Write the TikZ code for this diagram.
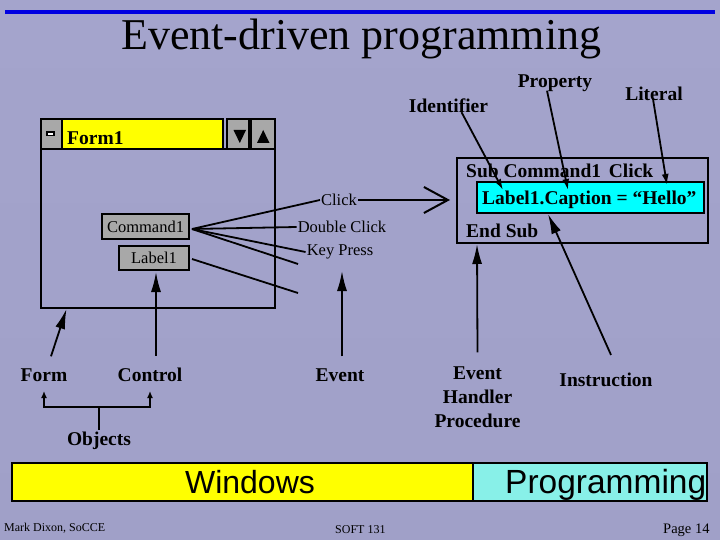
\documentclass[tikz,border=0pt]{standalone}
\usepackage{fontspec}
\setmainfont{Liberation Serif}
\newfontfamily\arialf{Liberation Sans}
\usetikzlibrary{arrows.meta,calc}
\definecolor{bgtop}{RGB}{164,164,204}
\definecolor{bgmid}{RGB}{202,202,244}
\definecolor{bgbot}{RGB}{160,160,200}
\definecolor{titleblue}{RGB}{0,0,225}
\definecolor{btngray}{RGB}{168,168,168}
\definecolor{codecyan}{RGB}{0,255,255}
\definecolor{progcyan}{RGB}{136,240,232}
\definecolor{winyellow}{RGB}{255,255,0}
\begin{document}
\begin{tikzpicture}[x=1pt,y=-1pt,
  lbl/.style={font=\fontsize{19.5}{23}\selectfont\bfseries, inner sep=0pt, align=center},
  evtlbl/.style={font=\fontsize{16.5}{18}\selectfont, inner sep=1pt},
  btn/.style={draw=black, line width=2pt, fill=btngray, inner sep=0pt, font=\fontsize{16.5}{18}\selectfont},
  frame/.style={draw=black, line width=2pt},
  conn/.style={line width=1.8pt},
  bigarr/.style={line width=1.8pt, -{Latex[length=20pt,width=10pt]}},
  smallarr/.style={line width=1.8pt, -{Latex[length=11pt,width=7pt]}},
  tinyarr/.style={line width=1.8pt, -{Latex[length=7pt,width=6pt]}}
]
% background
\shade[top color=bgtop, middle color=bgmid, bottom color=bgbot] (0,0) rectangle (720,540);
\useasboundingbox (0,0) rectangle (720,540);

% title
\draw[titleblue, line width=4pt] (5,12) -- (715,12);
\node[font=\fontsize{44}{50}\selectfont, anchor=base west, inner sep=0pt] (title) at (121,50) {Event-driven programming};

% Form window
\draw[frame] (41,149) rectangle (275,308);
\draw[frame, fill=btngray] (41,119) rectangle (62,149);
\draw[fill=white, draw=black, line width=1.2pt] (47,132) rectangle (54,135.5);
\draw[frame, fill=winyellow] (62,119) rectangle (223,149);
\node[lbl, anchor=base west] (formtitle) at (67,145) {Form1};
\draw[frame, fill=btngray] (227,119) rectangle (249,149);
\fill[black] (233.5,130) -- (246,130) -- (239.8,143) -- cycle;
\draw[frame, fill=btngray] (251,119) rectangle (275,149);
\fill[black] (257,143) -- (269.5,143) -- (263.2,130) -- cycle;

% controls
\node[btn, minimum width=87pt, minimum height=24pt] (cmd) at (145.5,226.5) {Command1};
\node[btn, minimum width=70pt, minimum height=24pt] (lab) at (154,258) {Label1};

% events
\node[evtlbl] (click) at (339,200) {Click};
\node[evtlbl] (dbl) at (342,227) {Double Click};
\node[evtlbl] (key) at (340,252) {Key Press};
\coordinate (fan) at (192,229);
\coordinate (fanend) at (298,264);
\coordinate (labend) at (298,293);
\draw[conn] (fan) -- (click.west);
\draw[conn] (fan) -- (dbl.west);
\draw[conn] (fan) -- (key.west);
\draw[conn] (fan) -- (fanend);
\draw[conn] ([xshift=2pt,yshift=-1pt]lab.east) -- (labend);

% code box
\draw[frame] (457,158) rectangle (708,243);
\draw[frame, fill=codecyan] (477,182) rectangle (704,213);
\node[lbl, anchor=base west] (subline) at (466,178) {Sub Command1\hspace{0.4em}Click};
\node[lbl, anchor=base west] (capline) at (482,205) {Label1.Caption = “Hello”};
\node[lbl, anchor=base west] (endsub) at (466,237) {End Sub};
\coordinate (codein) at (450,200);
\draw[line width=1.8pt, -{Straight Barb[length=24pt,width=26pt,line width=2pt]}] (click.east) -- (codein);

% top annotations
\node[lbl] (ident) at (448.5,106) {Identifier};
\node[lbl] (prop) at (555,83) {Property};
\node[lbl] (lit) at (654,94) {Literal};
\coordinate (identtip) at (503,190);
\coordinate (proptip) at (568,190);
\coordinate (littip) at (667,185);
\draw[smallarr] ([xshift=13pt,yshift=1pt]ident.south) -- (identtip);
\draw[smallarr] ([xshift=-8pt,yshift=1pt]prop.south) -- (proptip);
\draw[smallarr] ([xshift=-1pt,yshift=2pt]lit.south) -- (littip);

% bottom annotations
\node[lbl] (form) at (44,375) {Form};
\node[lbl] (control) at (150,375) {Control};
\node[lbl] (event) at (340,375) {Event};
\node[lbl, font=\fontsize{19.5}{24}\selectfont\bfseries] (ehp) at (477.5,397) {Event\\Handler\\Procedure};
\node[lbl] (instr) at (606,380) {Instruction};
\coordinate (formtip) at (66.5,309);
\coordinate (controltip) at (156,272);
\coordinate (eventtip) at (342,271);
\coordinate (ehptip) at (477,244);
\coordinate (instrtip) at (548,214);
\draw[bigarr] ([xshift=7pt,yshift=12pt]form.north) -- (formtip);
\draw[bigarr] ([xshift=6pt,yshift=12pt]control.north) -- (controltip);
\draw[bigarr] ([xshift=2pt,yshift=12pt]event.north) -- (eventtip);
\draw[bigarr] ([yshift=14pt]ehp.north) -- (ehptip);
\draw[bigarr] ([xshift=5pt,yshift=18pt]instr.north) -- (instrtip);

% objects bracket
\node[lbl] (objects) at (99,441) {Objects};
\coordinate (objjoin) at (99,407);
\coordinate (formup) at (44,391);
\coordinate (controlup) at (150,391);
\draw[conn] ([yshift=2pt]objects.north) -- (objjoin);
\draw[tinyarr] (objjoin) -| (formup);
\draw[tinyarr] (objjoin) -| (controlup);

% bottom bar
\draw[frame, fill=winyellow] (12,463) rectangle (473,501);
\draw[frame, fill=progcyan] (473,463) rectangle (707,501);
\node[font=\arialf\fontsize{32}{36}\selectfont, inner sep=0pt, anchor=base] (windows) at (250,493) {Windows};
\node[font=\arialf\fontsize{33.5}{36}\selectfont, inner sep=0pt, anchor=base west] (programming) at (505,493) {Programming};

% footer
\node[font=\fontsize{12}{14}\selectfont, inner sep=0pt, anchor=base west] (author) at (4,531) {Mark Dixon, SoCCE};
\node[font=\fontsize{12}{14}\selectfont, inner sep=0pt, anchor=base west] (course) at (335,533) {SOFT 131};
\node[font=\fontsize{14.5}{16}\selectfont, inner sep=0pt, anchor=base west] (page) at (663,533) {Page 14};
\end{tikzpicture}
\end{document}
